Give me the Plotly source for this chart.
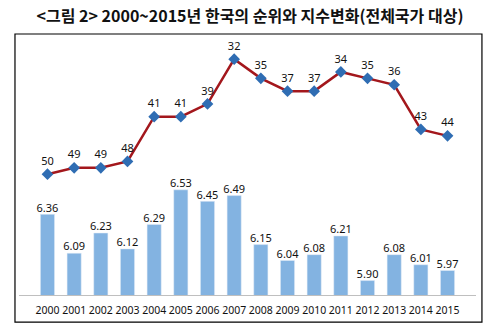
import plotly.graph_objects as go

years = [str(y) for y in range(2000, 2016)]
ranks = [50, 49, 49, 48, 41, 41, 39, 32, 35, 37, 37, 34, 35, 36, 43, 44]
scores = [6.36, 6.09, 6.23, 6.12, 6.29, 6.53, 6.45, 6.49, 6.15, 6.04, 6.08, 6.21, 5.90, 6.08, 6.01, 5.97]
title = "<그림 2> 2000~2015년 한국의 순위와 지수변화(전체국가 대상)"

font_lbl = "Noto Sans, DejaVu Sans, sans-serif"

fig = go.Figure()
fig.add_trace(go.Bar(
    x=years, y=scores, marker_color="#83B3E1", width=0.53,
    yaxis="y", hoverinfo="skip",
))
fig.add_trace(go.Scatter(
    x=years, y=scores, mode="text",
    text=[f"{v:.2f}" for v in scores], textposition="top center",
    textfont=dict(size=11, color="#111111", family=font_lbl),
    cliponaxis=False, yaxis="y",
))
fig.add_trace(go.Scatter(
    x=years, y=ranks, mode="lines+markers+text",
    line=dict(color="#A3171C", width=2.5),
    marker=dict(symbol="diamond", size=9, color="#2F6DB3"),
    text=[str(r) for r in ranks], textposition="top center",
    textfont=dict(size=11, color="#111111", family=font_lbl),
    cliponaxis=False, yaxis="y2",
))

fig.update_layout(
    width=500, height=336,
    margin=dict(l=19, r=24, t=40, b=41),
    paper_bgcolor="white", plot_bgcolor="white",
    showlegend=False,
    title=dict(text="<b>" + title + "</b>", x=0.5, xanchor="center",
               yref="container", y=1 - 16 / 336, yanchor="middle",
               font=dict(size=16, color="#111111", family="Noto Sans CJK KR")),
    xaxis=dict(showgrid=False, showline=True, linecolor="#BFBFBF", linewidth=1,
               ticks="", tickangle=0, ticklabelstandoff=5,
               tickfont=dict(size=10.5, color="#111111", family=font_lbl)),
    yaxis=dict(range=[5.8, 7.57], visible=False, showgrid=False),
    yaxis2=dict(range=[68.9, 29.0], overlaying="y", visible=False, showgrid=False),
    shapes=[dict(type="rect", xref="paper", yref="paper",
                 x0=-0.0088, x1=1.013, y0=-0.106, y1=1.0235,
                 line=dict(color="black", width=1.2), fillcolor="rgba(0,0,0,0)")],
)

fig.write_html("out.html")
